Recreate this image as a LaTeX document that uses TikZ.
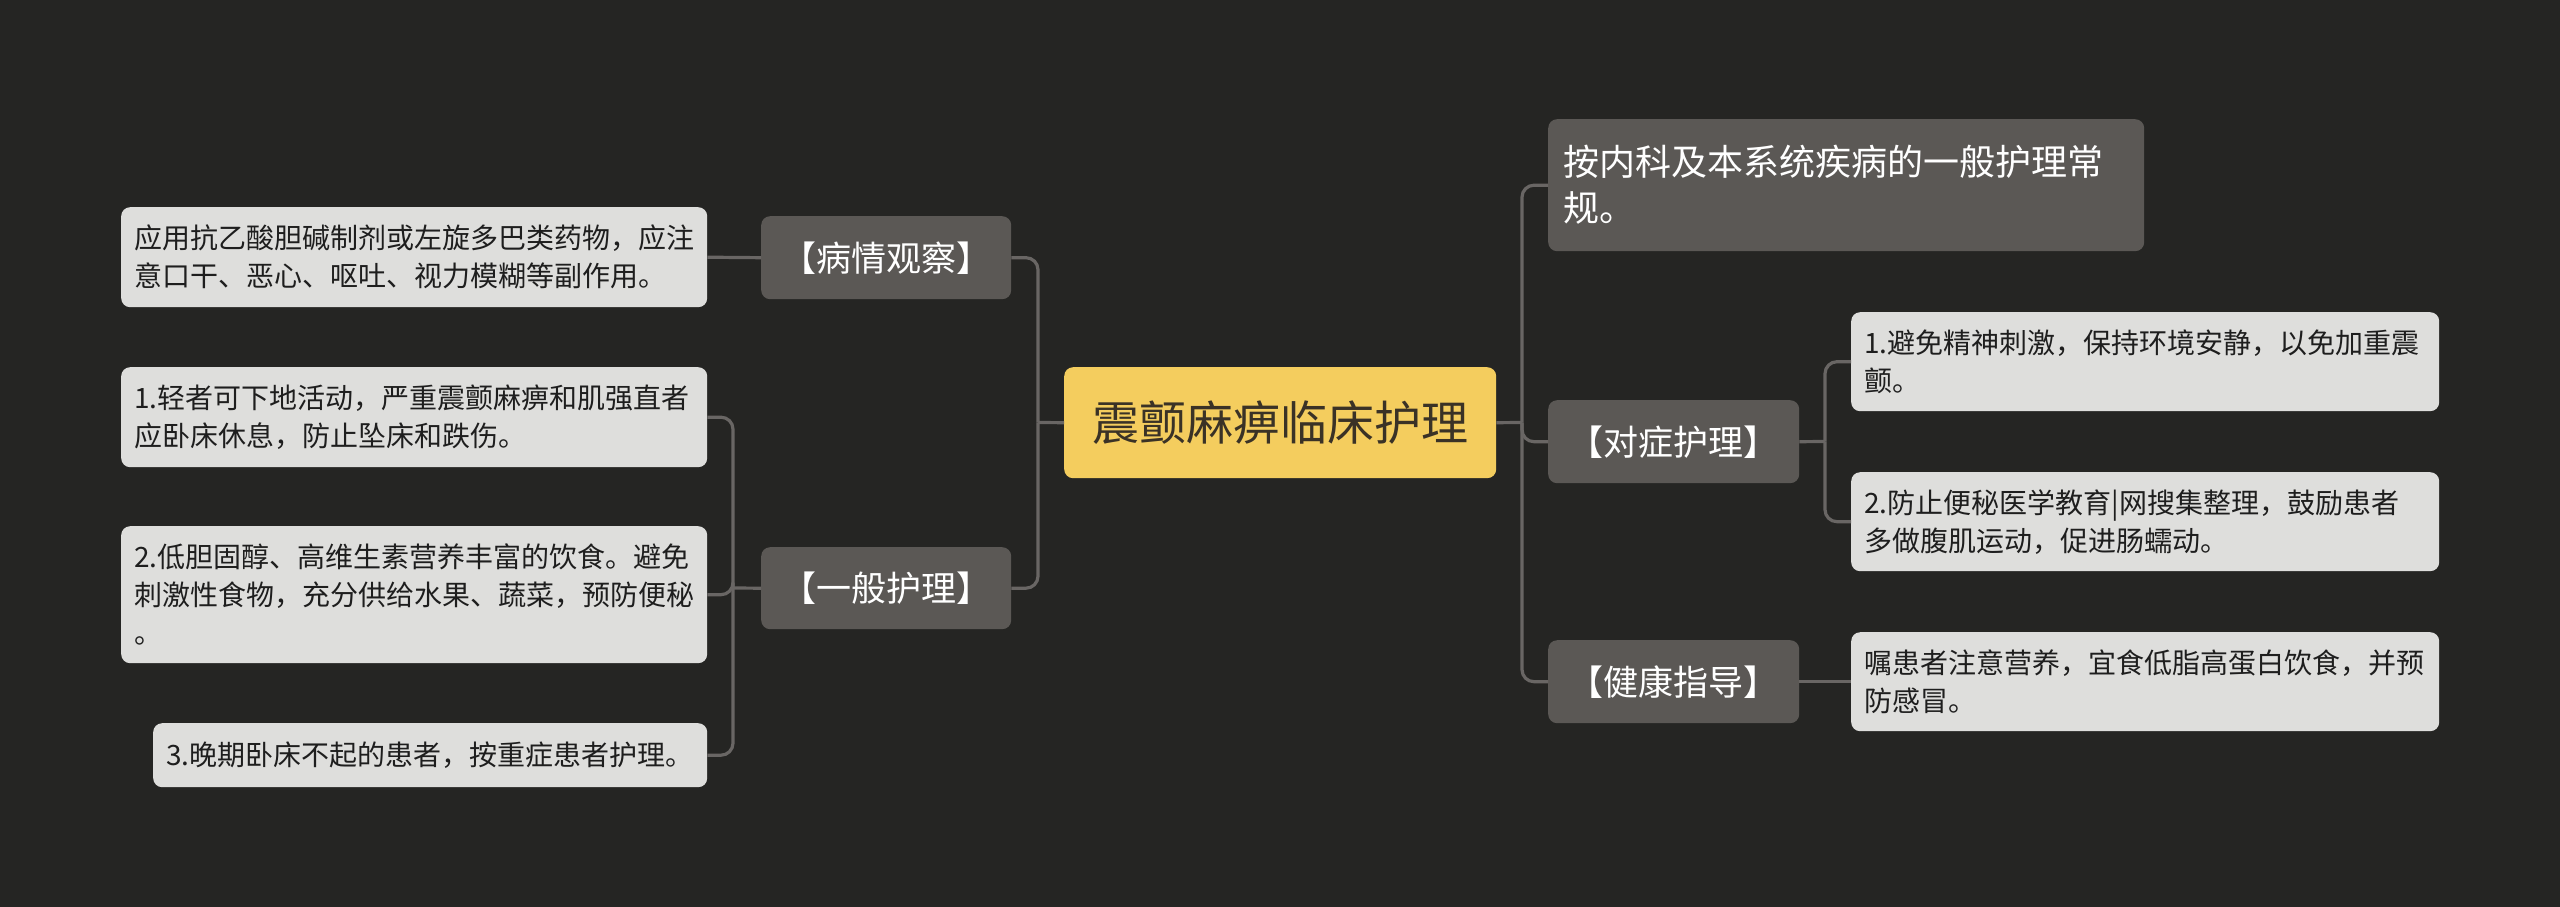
\documentclass[tikz,border=0pt]{standalone}
\usepackage{fontspec}
\newfontfamily\cjk{Noto Sans CJK SC}
\definecolor{bgc}{HTML}{252523}
\definecolor{leafc}{HTML}{DEDEDC}
\definecolor{leaftext}{HTML}{1E1E1E}
\definecolor{catc}{HTML}{5B5855}
\definecolor{rootc}{HTML}{F4CD5E}
\definecolor{roottext}{HTML}{3A3226}
\definecolor{linec}{HTML}{696664}
\tikzset{
  box/.style={rounded corners=9pt, inner ysep=0pt, anchor=north west},
  leaf/.style={box, fill=leafc, text=leaftext, inner xsep=13pt, align=left,
    font=\cjk\fontsize{28}{38}\selectfont},
  cat/.style={box, fill=catc, text=white, inner xsep=0pt, align=center,
    font=\cjk\fontsize{35}{46}\selectfont},
  catleft/.style={box, fill=catc, text=white, inner xsep=15pt, align=left,
    font=\cjk\fontsize{36}{46}\selectfont},
  rootbox/.style={box, fill=rootc, text=roottext, inner xsep=0pt, align=center,
    font=\cjk\fontsize{47}{56}\selectfont},
  conn/.style={draw=linec, line width=3.2pt, rounded corners=12pt}
}
\begin{document}
\begin{tikzpicture}[x=1pt,y=-1pt]
\fill[bgc] (0,0) rectangle (2560,907);
\useasboundingbox (0,0) rectangle (2560,907);

% root
\node[rootbox, minimum width=432pt, minimum height=111pt] (root) at (1064,367) {震颤麻痹临床护理};

% left categories
\node[cat, minimum width=250pt, minimum height=83pt] (bq) at (761,216) {【病情观察】};
\node[cat, minimum width=250pt, minimum height=82pt] (yb) at (761,547) {【一般护理】};

% left leaves
\node[leaf, text width=560pt, minimum height=100pt] (la) at (121,207)
  {应用抗乙酸胆碱制剂或左旋多巴类药物，应注\\意口干、恶心、呕吐、视力模糊等副作用。};
\node[leaf, text width=560pt, minimum height=100pt] (lb1) at (121,367)
  {1.轻者可下地活动，严重震颤麻痹和肌强直者\\应卧床休息，防止坠床和跌伤。};
\node[leaf, text width=560pt, minimum height=137pt] (lb2) at (121,526)
  {2.低胆固醇、高维生素营养丰富的饮食。避免\\刺激性食物，充分供给水果、蔬菜，预防便秘\\。};
\node[leaf, text width=528pt, minimum height=64pt] (lb3) at (153,723)
  {3.晚期卧床不起的患者，按重症患者护理。};

% right categories
\node[catleft, text width=566pt, minimum height=132pt] (an) at (1548,119)
  {按内科及本系统疾病的一般护理常\\规。};
\node[cat, minimum width=251pt, minimum height=83pt] (dz) at (1548,400) {【对症护理】};
\node[cat, minimum width=251pt, minimum height=83pt] (jk) at (1548,640) {【健康指导】};

% right leaves
\node[leaf, text width=562pt, minimum height=99pt] (r1) at (1851,312)
  {1.避免精神刺激，保持环境安静，以免加重震\\颤。};
\node[leaf, text width=562pt, minimum height=99pt] (r2) at (1851,472)
  {2.防止便秘医学教育|网搜集整理，鼓励患者\\多做腹肌运动，促进肠蠕动。};
\node[leaf, text width=562pt, minimum height=99pt] (r3) at (1851,632)
  {嘱患者注意营养，宜食低脂高蛋白饮食，并预\\防感冒。};

% trunks
\coordinate (tl) at (1038,422.5);
\coordinate (tr) at (1522,422.5);
\coordinate (tyb) at (733,588);
\coordinate (tdz) at (1825,441.5);

% connectors
\draw[conn] (root.west) -- (tl);
\draw[conn] (tl) |- (bq.east);
\draw[conn] (tl) |- (yb.east);
\draw[conn] (bq.west) -- (la.east);
\draw[conn] (yb.west) -- (tyb);
\draw[conn] (tyb) |- (lb1.east);
\draw[conn] (tyb) |- (lb2.east);
\draw[conn] (tyb) |- (lb3.east);

\draw[conn] (root.east) -- (tr);
\draw[conn] (tr) |- (an.west);
\draw[conn] (tr) |- (dz.west);
\draw[conn] (tr) |- (jk.west);
\draw[conn] (dz.east) -- (tdz);
\draw[conn] (tdz) |- (r1.west);
\draw[conn] (tdz) |- (r2.west);
\draw[conn] (jk.east) -- (r3.west);
\end{tikzpicture}
\end{document}
